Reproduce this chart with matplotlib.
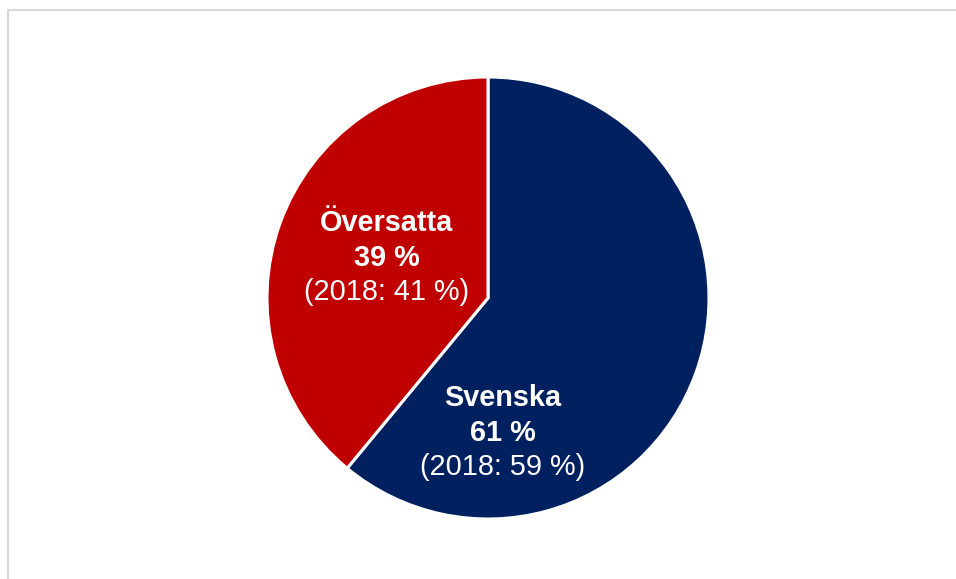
import matplotlib
matplotlib.use("Agg")
import matplotlib.pyplot as plt

W, H = 956, 579

labels = ["Svenska", "Översatta"]
shares = [61, 39]
prev_shares = [59, 41]
colors = ["#002060", "#C00000"]

plt.rcParams["font.family"] = ["Liberation Sans", "DejaVu Sans"]

fig = plt.figure(figsize=(W / 100, H / 100), dpi=100)
ax = fig.add_axes([0, 0, 1, 1])
ax.set_xlim(0, W)
ax.set_ylim(0, H)
ax.set_aspect("equal")
ax.axis("off")

# chart frame (only top and left edge visible in the crop)
ax.plot([8, 8, W], [0, H - 10, H - 10], color="#D9D9D9", lw=1.5,
        solid_joinstyle="miter")

cx, cy, r = 488, H - 298, 221
ax.pie(shares, colors=colors, startangle=90, counterclock=False,
       center=(cx, cy), radius=r,
       wedgeprops=dict(edgecolor="white", linewidth=2.2))
ax.set_xlim(0, W)
ax.set_ylim(0, H)

# label anchor points (pixel offsets from pie centre)
label_pos = [(15, -135), (-101, 40)]
fs = 20.8
for lab, s, p, (dx, dy) in zip(labels, shares, prev_shares, label_pos):
    x, y = cx + dx, cy + dy
    ax.text(x, y + 35, lab, color="white", fontsize=fs, fontweight="bold",
            ha="center", va="center")
    ax.text(x, y, f"{s} %", color="white", fontsize=fs, fontweight="bold",
            ha="center", va="center")
    ax.text(x, y - 34, f"(2018: {p} %)", color="white", fontsize=fs,
            ha="center", va="center")

fig.savefig("out.png", dpi=100)
